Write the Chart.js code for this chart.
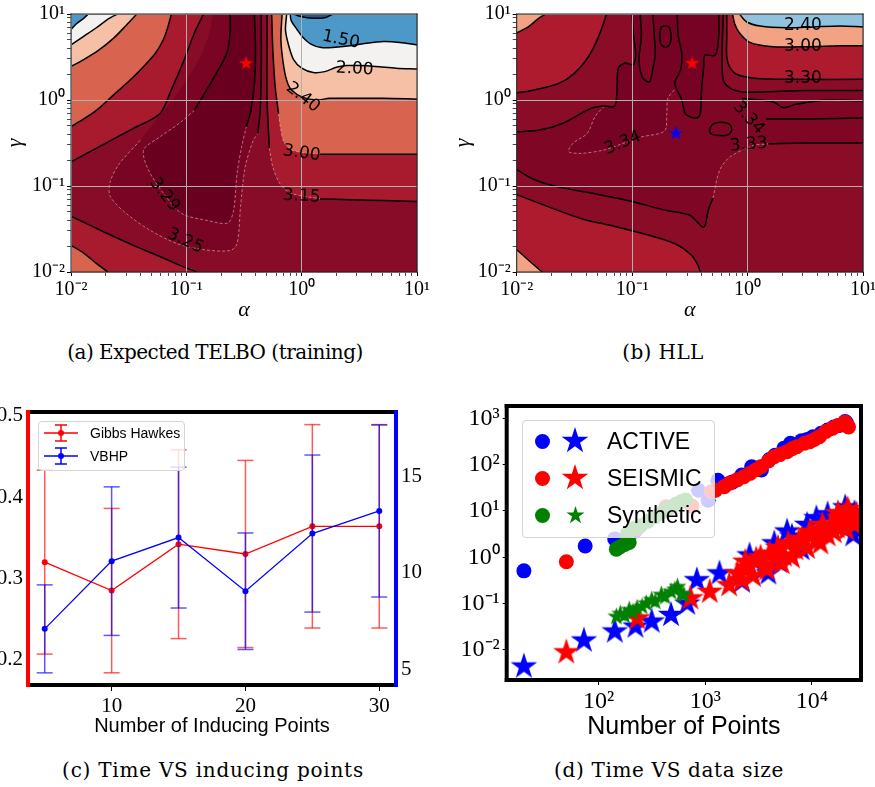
<!DOCTYPE html>
<html>
<head>
<meta charset="utf-8">
<title>TELBO / HLL / timing</title>
<script src="https://cdn.jsdelivr.net/npm/chart.js@4.4.1/dist/chart.umd.min.js"></script>
<style>
  html, body { margin: 0; padding: 0; background: #fff; }
  body { position: relative; width: 875px; height: 787px; overflow: hidden; }
  .panel { position: absolute; overflow: hidden; }
  .panel canvas { position: absolute; left: 0; }
  .cap { position: absolute; font-family: "DejaVu Serif", serif; font-size: 20px; line-height: 24px; text-align: center; white-space: nowrap; color: #000; }
  .legend { position: absolute; box-sizing: border-box; background: rgba(255,255,255,0.8); border: 1px solid #d4d4d4; border-radius: 4px; font-family: "Liberation Sans", Arial, sans-serif; color: #000; }
  .legend > * { position: absolute; }
  .legend span { white-space: nowrap; }
</style>
</head>
<body>
<div class="panel" style="left:0;top:0;width:440px;height:335px"><canvas id="telbo" width="450" height="345" style="top:-10px"></canvas></div>
<div class="panel" style="left:440px;top:0;width:435px;height:335px"><canvas id="hll" width="450" height="345" style="top:-10px"></canvas></div>
<div class="panel" style="left:0;top:395px;width:440px;height:360px"><canvas id="inducing" width="440" height="375" style="top:-10px"></canvas></div>
<div class="panel" style="left:460px;top:395px;width:415px;height:360px"><canvas id="datasize" width="415" height="375" style="top:-15px"></canvas></div>
<div class="legend" id="legInducing" style="left:38px;top:421px;width:147px;height:50px"></div>
<div class="legend" id="legSize" style="left:522px;top:420px;width:193px;height:118px"></div>
<div class="cap" style="left:15px;top:340px;width:400px;letter-spacing:-0.5px">(a) Expected TELBO (training)</div>
<div class="cap" style="left:563px;top:340px;width:200px;letter-spacing:0.4px">(b) HLL</div>
<div class="cap" style="left:13px;top:758px;width:400px;letter-spacing:0.75px">(c) Time VS inducing points</div>
<div class="cap" style="left:469px;top:758px;width:400px;letter-spacing:0.65px">(d) Time VS data size</div>
<script>
Chart.defaults.font.family = '"Liberation Serif", serif';
Chart.defaults.color = '#000';

// contour paths are [log10(alpha), log10(gamma)] pairs

// (a) Expected TELBO
const telboC100 = [[-0.07,1.00],[-0.01,0.97],[0.10,0.95],[0.21,0.96],[0.27,1.00]];
const telboC150a = [[-1.85,1.00],[-1.89,0.95],[-1.95,0.89],[-2.00,0.82]];
const telboC150b = [[-0.10,1.00],[-0.09,0.92],[-0.04,0.82],[0.01,0.73],[0.08,0.65],[0.17,0.61],[0.27,0.61],[0.42,0.63],[0.56,0.66],[0.71,0.68],[0.85,0.67],[1.00,0.64]];
const telboC200a = [[-1.60,1.00],[-1.68,0.94],[-1.78,0.84],[-1.89,0.74],[-2.00,0.64]];
const telboC200b = [[-0.13,1.00],[-0.14,0.81],[-0.11,0.62],[-0.07,0.47],[0.00,0.37],[0.10,0.32],[0.20,0.33],[0.30,0.38],[0.39,0.40],[0.50,0.40],[0.64,0.39],[0.82,0.37],[1.00,0.36]];
const telboC240a = [[-1.43,1.00],[-1.52,0.87],[-1.63,0.72],[-1.76,0.58],[-1.89,0.47],[-2.00,0.39]];
const telboC240b = [[-0.17,1.00],[-0.18,0.70],[-0.16,0.43],[-0.13,0.23],[-0.09,0.12],[0.01,0.03],[0.13,0.00],[0.24,0.02],[0.42,0.02],[0.71,0.02],[1.00,0.01]];
const telboC300a = [[-1.13,1.00],[-1.16,0.85],[-1.20,0.70],[-1.27,0.54],[-1.37,0.39],[-1.49,0.23],[-1.63,0.06],[-1.78,-0.12],[-1.89,-0.22],[-2.00,-0.31]];
const telboC300bTop = [[-0.26,1.00],[-0.25,0.58],[-0.23,0.16],[-0.20,-0.16]];
const telboC300bMid = [[-0.20,-0.16],[-0.18,-0.35],[-0.15,-0.50],[-0.07,-0.59],[0.16,-0.63]];
const telboC300bRight = [[0.16,-0.63],[0.42,-0.63],[0.71,-0.63],[1.00,-0.63]];
const telboC300c = [[-2.00,-1.69],[-1.89,-1.78],[-1.78,-1.90],[-1.68,-2.00]];
const telboC315a = [[-2.00,-0.72],[-1.75,-0.54],[-1.46,-0.33],[-1.23,-0.16],[-1.13,0.12],[-1.03,0.43],[-0.93,0.78],[-0.85,1.00]];
const telboC315bTop = [[-0.30,1.00],[-0.30,0.58],[-0.30,0.00],[-0.28,-0.56]];
const telboC315bMid = [[-0.28,-0.56],[-0.25,-0.78],[-0.19,-0.97],[-0.10,-1.08],[0.16,-1.15]];
const telboC315bRight = [[0.16,-1.15],[0.42,-1.16],[0.71,-1.17],[1.00,-1.18]];
const telboC315c = [[-2.00,-1.35],[-1.86,-1.44],[-1.69,-1.55],[-1.46,-1.69],[-1.23,-1.82],[-1.06,-1.92],[-0.91,-2.00]];
const telboC325 = [[-0.77,1.00],[-0.80,0.78],[-0.88,0.50],[-1.00,0.23],[-1.14,-0.04],[-1.26,-0.23],[-1.40,-0.47],[-1.58,-0.74],[-1.66,-0.95],[-1.66,-1.12],[-1.52,-1.32],[-1.32,-1.51],[-1.08,-1.67],[-0.85,-1.74],[-0.62,-1.75],[-0.56,-1.67],[-0.53,-1.24],[-0.49,-0.78],[-0.42,-0.47],[-0.38,-0.39],[-0.36,-0.12],[-0.35,0.39],[-0.35,1.00]];
const telboC329 = [[-0.62,1.00],[-0.62,0.78],[-0.65,0.54],[-0.74,0.31],[-0.84,0.08],[-0.93,-0.12],[-1.06,-0.27],[-1.23,-0.43],[-1.37,-0.58],[-1.33,-0.81],[-1.19,-1.10],[-1.04,-1.32],[-0.82,-1.40],[-0.64,-1.43],[-0.59,-1.28],[-0.56,-0.85],[-0.52,-0.54],[-0.48,-0.31],[-0.44,-0.12],[-0.41,0.19],[-0.40,0.58],[-0.41,1.00]];
const telboLabels = [['1.50',0.34,0.70,12],['2.00',0.46,0.36,3],['2.40',0.01,0.03,38],['3.00',0.00,-0.62,8],['3.15',0.00,-1.12,3],['3.29',-1.19,-1.10,52],['3.25',-1.01,-1.64,25]];
const telboStars = [{alpha: 0.33, gamma: 2.67, color: '#ff0000'}];

// (b) HLL
const hllC240 = [[-0.07,1.00],[-0.01,0.91],[0.11,0.86],[0.34,0.84],[0.57,0.85],[0.80,0.86],[1.00,0.85]];
const hllC300a = [[-0.13,1.00],[-0.11,0.88],[-0.07,0.78],[0.02,0.67],[0.22,0.62],[0.51,0.62],[0.80,0.63],[1.00,0.63]];
const hllC300b = [[-1.75,1.00],[-1.81,0.95],[-1.90,0.85],[-2.00,0.78]];
const hllC300c = [[-2.00,-1.74],[-1.90,-1.86],[-1.78,-2.00]];
const hllC330a = [[-2.00,0.08],[-1.84,0.12],[-1.64,0.19],[-1.50,0.31],[-1.38,0.50],[-1.29,0.74],[-1.22,1.00]];
const hllC330b = [[-0.18,1.00],[-0.18,0.74],[-0.18,0.50],[-0.15,0.37],[-0.08,0.29],[0.08,0.25],[0.37,0.24],[1.00,0.24]];
const hllC330c = [[-2.00,-1.10],[-1.73,-1.24],[-1.44,-1.38],[-1.15,-1.47],[-0.86,-1.57],[-0.63,-1.67],[-0.49,-1.80],[-0.43,-1.92],[-0.41,-2.00]];
const hllC333a = [[-2.00,-0.37],[-1.80,-0.35],[-1.60,-0.27],[-1.42,-0.14],[-1.34,-0.09],[-1.24,-0.07],[-1.15,-0.07],[-1.13,0.16],[-1.12,0.37],[-1.06,0.43],[-0.99,0.41],[-0.97,0.54],[-0.99,0.78],[-1.00,1.00]];
const hllC333bLeft = [[-2.00,-0.81],[-1.84,-0.93],[-1.64,-1.01],[-1.29,-1.10],[-1.00,-1.18],[-0.72,-1.28],[-0.50,-1.34],[-0.38,-1.48],[-0.34,-1.28],[-0.30,-1.14]];
const hllC333bMid = [[-0.30,-1.14],[-0.24,-0.81],[-0.15,-0.66],[0.05,-0.53],[0.18,-0.51]];
const hllC333bRight = [[0.18,-0.51],[0.51,-0.50],[1.00,-0.50]];
const hllC333c = [[-0.21,1.00],[-0.22,0.58],[-0.21,0.23],[-0.14,0.13],[-0.01,0.09],[0.22,0.10],[0.51,0.11],[1.00,0.11]];
const hllC332 = [[-0.05,0.02],[0.22,-0.02],[0.31,-0.09],[0.42,-0.05],[0.68,0.00],[1.00,-0.01]];
const hllC334a = [[-1.24,-0.07],[-1.32,-0.19],[-1.39,-0.39],[-1.51,-0.50],[-1.55,-0.60],[-1.44,-0.62],[-1.24,-0.58],[-1.09,-0.51],[-0.92,-0.43],[-0.72,-0.36],[-0.70,-0.16],[-0.69,0.02],[-0.62,0.14]];
const hllC334b = [[-0.61,1.00],[-0.60,0.74],[-0.57,0.54],[-0.58,0.35],[-0.63,0.21],[-0.62,0.14],[-0.57,0.00],[-0.54,-0.16],[-0.49,-0.20],[-0.44,-0.21],[-0.41,-0.16],[-0.40,0.08],[-0.38,0.39],[-0.37,0.52],[-0.28,0.52],[-0.25,0.74],[-0.25,1.00]];
const hllC334c = [[-0.93,1.00],[-0.92,0.74],[-0.94,0.47],[-0.91,0.26],[-0.85,0.21],[-0.82,0.37],[-0.80,0.52],[-0.81,0.78],[-0.82,1.00]];
const hllC334d = [[-0.75,0.85],[-0.69,0.86],[-0.665,0.78],[-0.67,0.66],[-0.71,0.61],[-0.75,0.65],[-0.76,0.76],[-0.75,0.85]];
const hllC334e = [[-0.33,-0.34],[-0.30,-0.28],[-0.23,-0.26],[-0.15,-0.29],[-0.14,-0.36],[-0.18,-0.41],[-0.27,-0.41],[-0.32,-0.39],[-0.33,-0.34]];
const hllC334f = [[0.16,-0.22],[0.51,-0.22],[1.00,-0.21]];
const hllLabels = [['2.40',0.48,0.87,0],['3.00',0.48,0.62,0],['3.30',0.48,0.25,0],['3.34',-1.08,-0.50,-22],['3.34',0.01,-0.21,48],['3.33',0.01,-0.52,-5]];
const hllStars = [{alpha: 0.331, gamma: 2.67, color: '#ff0000'}, {alpha: 0.239, gamma: 0.409, color: '#0000ff'}];

// (c) time vs inducing points
const inducingPoints = [5, 10, 15, 20, 25, 30];
const gibbsTime = [0.320, 0.285, 0.342, 0.330, 0.364, 0.364];
const gibbsErr = [0.113, 0.101, 0.116, 0.115, 0.125, 0.125];
const vbhpTime = [7.08, 10.59, 11.81, 9.03, 12.02, 13.19];
const vbhpErr = [2.28, 3.85, 3.65, 3.02, 4.07, 4.46];
const inducingTicks = [10, 20, 30];
const gibbsTicks = [0.2, 0.3, 0.4, 0.5];
const vbhpTicks = [5, 10, 15];

// (d) time vs data size
const activeCircleN = [20, 75, 142, 220, 865, 1064, 1313, 1500, 1795, 2200, 2723, 3000, 3357, 4000, 4500, 5456, 6280, 7000, 8000, 9000, 10200, 12160, 14000, 16000, 18000, 20460, 21000];
const activeCircleT = [0.51, 1.76, 2.5, 3.7, 28, 17, 46, 38, 42, 60, 90, 85, 77, 130, 160, 225, 290, 260, 330, 350, 400, 475, 560, 650, 700, 850, 800];
const seismicCircleN = [50, 231, 430, 751, 1140, 1250, 1507, 1700, 1990, 2300, 2630, 3000, 3360, 3900, 4436, 5000, 5850, 6500, 7210, 8500, 9530, 10500, 11730, 13500, 15500, 17500, 19770, 20500, 21500, 22000];
const seismicCircleT = [0.80, 4.2, 12.4, 12.8, 26, 28, 33.5, 40, 47, 55, 65, 78, 91, 120, 149, 165, 191, 220, 245, 290, 313, 350, 402, 520, 608, 700, 780, 820, 700, 650];
const synthCircleN = [147, 160, 176, 194, 187, 215, 247, 290, 340, 400, 460, 530, 600, 655];
const synthCircleT = [1.5, 1.7, 1.9, 2.1, 3.3, 4.2, 4.8, 6.0, 7.5, 9.5, 11.5, 14, 16, 17.3];
const activeStarN = [20, 73, 142, 222, 315, 478, 678, 834, 1360, 2208, 2600, 3600, 3900, 4436, 4920, 5850, 6500, 8000, 9000, 11000, 12500, 14000, 15000, 17000, 18000, 20460, 22000, 24380, 25000, 26000];
const activeStarT = [0.0044, 0.016, 0.025, 0.032, 0.041, 0.057, 0.10, 0.32, 0.45, 0.30, 1.1, 0.58, 0.45, 2.0, 0.8, 3.6, 2.8, 1.5, 5.0, 7.0, 3.8, 8.5, 5.0, 6.0, 8.0, 12, 5.0, 3.0, 9.0, 4.5];
const seismicStarN = [50, 231, 727, 1101, 1675, 2000, 2210, 2371, 2500, 2800, 3000, 3300, 3600, 3800, 4000, 4500, 4800, 5200, 5460, 6000, 6500, 7000, 7500, 8000, 9000, 9500, 10000, 11000, 12000, 12500, 13000, 14000, 15000, 16000, 17000, 17500, 18000, 19000, 20000, 21000, 21500, 22000, 23000, 24000, 25000, 26000];
const seismicStarT = [0.0089, 0.048, 0.13, 0.18, 0.25, 0.45, 0.32, 0.8, 0.6, 0.4, 0.9, 1.0, 0.68, 0.55, 1.2, 0.9, 1.6, 0.75, 1.1, 2.0, 1.0, 1.5, 2.2, 2.5, 1.6, 3.5, 3.0, 2.6, 2.0, 5.0, 4.0, 3.0, 5.0, 3.5, 4.5, 9.0, 7.0, 5.9, 8.0, 4.0, 11, 9.7, 7.5, 6.0, 5.0, 8.5];
const synthStarN = [147, 160, 175, 194, 210, 230, 256, 280, 315, 340, 388, 420, 478, 520, 550, 600, 630];
const synthStarT = [0.052, 0.06, 0.055, 0.073, 0.065, 0.08, 0.086, 0.10, 0.12, 0.11, 0.155, 0.14, 0.18, 0.20, 0.23, 0.16, 0.155];
const sizeXTicks = [100, 1000, 10000];
const sizeYTicks = [0.01, 0.1, 1, 10, 100, 1000];
const contourDecades = [0.01, 0.1, 1, 10];

// ---------- helpers ----------
const SUP = {'-': '\u207b', '0': '\u2070', '1': '\u00b9', '2': '\u00b2', '3': '\u00b3', '4': '\u2074'};
const pow10Label = v => '10' + String(Math.round(Math.log10(v))).split('').map(c => SUP[c]).join('');
const E = ([a, g]) => ({x: 10 ** a, y: 10 ** g});
const rev = p => [...p].reverse();
const poly = (...parts) => parts.flatMap(p => [p[0], ...p, p[p.length - 1]]);
const pairs = (xs, ys) => xs.map((x, i) => ({x, y: ys[i]}));
const TL = [[-2, 1]], TR = [[1, 1]], BL = [[-2, -2]], BR = [[1, -2]];
const contourTicks = contourDecades.flatMap((d, i) => i === contourDecades.length - 1 ? [d] : [1, 2, 3, 4, 5, 6, 7, 8, 9].map(k => d * k));
const isDecade = v => contourDecades.includes(v);

function starImg(color, r) {
  const size = Math.ceil(2 * r) + 2;
  const c = document.createElement('canvas');
  c.width = size; c.height = size;
  const g = c.getContext('2d');
  g.fillStyle = color;
  g.beginPath();
  for (let k = 0; k < 10; k++) {
    const rr = k % 2 ? r * 0.382 : r;
    const ang = -Math.PI / 2 + k * Math.PI / 5;
    g.lineTo(size / 2 + rr * Math.cos(ang), size / 2 + rr * Math.sin(ang));
  }
  g.closePath();
  g.fill();
  return c;
}

const framePlugin = sides => ({
  id: 'frame',
  afterDraw(chart) {
    const {ctx, chartArea: a} = chart;
    const seg = {top: [a.left, a.top, a.right, a.top], bottom: [a.left, a.bottom, a.right, a.bottom],
                 left: [a.left, a.top, a.left, a.bottom], right: [a.right, a.top, a.right, a.bottom]};
    ctx.save();
    sides.forEach(([side, color, width]) => {
      const s = seg[side];
      ctx.strokeStyle = color; ctx.lineWidth = width; ctx.lineCap = 'square';
      ctx.beginPath(); ctx.moveTo(s[0], s[1]); ctx.lineTo(s[2], s[3]); ctx.stroke();
    });
    ctx.restore();
  }
});

const labelPlugin = items => ({
  id: 'contourLabels',
  afterDraw(chart) {
    const {ctx, scales} = chart;
    ctx.save();
    ctx.font = '17px "DejaVu Sans", sans-serif';
    ctx.fillStyle = '#000';
    ctx.textAlign = 'center';
    ctx.textBaseline = 'middle';
    items.forEach(([text, ea, eg, rot]) => {
      ctx.save();
      ctx.translate(scales.x.getPixelForValue(10 ** ea), scales.y.getPixelForValue(10 ** eg));
      ctx.rotate(rot * Math.PI / 180);
      ctx.fillText(text, 0, 0);
      ctx.restore();
    });
    ctx.restore();
  }
});

function contourAxis(title, titlePad, fit) {
  return {
    type: 'logarithmic', min: 0.01, max: 10,
    afterBuildTicks: s => { s.ticks = contourTicks.map(value => ({value})); },
    afterFit: fit,
    border: {display: false},
    grid: {z: 1, color: c => isDecade(c.tick.value) ? '#b0b0b0' : 'rgba(0,0,0,0)', lineWidth: 1,
           tickColor: '#000', tickLength: 4, tickWidth: c => isDecade(c.tick.value) ? 1 : 0.7},
    ticks: {autoSkip: false, maxRotation: 0, padding: 2, font: {size: 20}, callback: v => isDecade(v) ? pow10Label(v) : ''},
    title: {display: true, text: title, font: {size: 22, style: 'italic'}, padding: titlePad}
  };
}

function contourChart(id, spec) {
  const datasets = [];
  spec.fills.forEach(([color, pts]) => datasets.push({data: pts.map(E), fill: 'shape', backgroundColor: color, borderWidth: 0, pointRadius: 0, tension: 0.3}));
  spec.gray.forEach(p => datasets.push({data: p.map(E), fill: false, borderColor: 'rgba(225,185,185,0.75)', borderWidth: 0.8, borderDash: [3, 2], pointRadius: 0, tension: 0.3}));
  spec.black.forEach(p => datasets.push({data: p.map(E), fill: false, borderColor: '#000', borderWidth: 1.5, pointRadius: 0, tension: 0.3}));
  spec.stars.forEach(s => datasets.push({data: [{x: s.alpha, y: s.gamma}], showLine: false, fill: false, pointStyle: starImg(s.color, 7.5), pointRadius: 7.5}));
  datasets.forEach((d, i) => { d.order = datasets.length - i; });
  return new Chart(document.getElementById(id), {
    type: 'line',
    data: {datasets},
    options: {
      responsive: false, animation: false, events: [],
      layout: {padding: {top: 24, right: spec.padRight, left: 0, bottom: 0}},
      plugins: {legend: {display: false}, tooltip: {enabled: false}},
      scales: {
        x: contourAxis('\u03b1', {top: 0, bottom: 11.8}, s => { s.height = 63; }),
        y: contourAxis('\u03b3', {top: spec.gammaPad, bottom: 0}, s => { s.width = spec.yWidth; })
      }
    },
    plugins: [framePlugin([['top', '#222', 1], ['bottom', '#222', 1], ['left', '#222', 1], ['right', '#222', 1]]), labelPlugin(spec.labels)]
  });
}

// ---------- (a) ----------
const telboC300b = [...telboC300bTop, ...telboC300bMid.slice(1), ...telboC300bRight.slice(1)];
const telboC315b = [...telboC315bTop, ...telboC315bMid.slice(1), ...telboC315bRight.slice(1)];
contourChart('telbo', {
  yWidth: 71, padRight: 33, gammaPad: 1.8,
  fills: [
    ['#4b98c9', poly(TL, BL, BR, TR)],
    ['#1f5a96', poly(telboC100)],
    ['#f4f2f0', poly(telboC150a, BL, BR, rev(telboC150b))],
    ['#f6c0a6', poly(telboC200a, BL, BR, rev(telboC200b))],
    ['#d8634f', poly(telboC240a, BL, BR, rev(telboC240b))],
    ['#a81a2e', poly(telboC300a, telboC300c, BR, rev(telboC300b))],
    ['#880b27', poly(rev(telboC315a), telboC315c, BR, rev(telboC315b))],
    ['#790424', poly(telboC325)],
    ['#6a0020', poly(telboC329)]
  ],
  gray: [telboC300bMid, telboC315bMid, telboC325.slice(6, 20), telboC329.slice(5, 18)],
  black: [telboC100, telboC150a, telboC150b, telboC200a, telboC200b, telboC240a, telboC240b, telboC300a,
          telboC300bTop, telboC300bRight, telboC300c, telboC315a, telboC315bTop, telboC315bRight, telboC315c,
          telboC325.slice(19), telboC329.slice(0, 6), telboC329.slice(17)],
  stars: telboStars,
  labels: telboLabels
});

// ---------- (b) ----------
const hllC333b = [...hllC333bLeft, ...hllC333bMid.slice(1), ...hllC333bRight.slice(1)];
contourChart('hll', {
  yWidth: 76.7, padRight: 27, gammaPad: 9.8,
  fills: [
    ['#8fc3df', poly(TL, BL, BR, TR)],
    ['#f2a383', poly(TL, BL, BR, rev(hllC240))],
    ['#ae1b2f', poly(hllC300b, hllC300c, BR, rev(hllC300a))],
    ['#8a0c27', poly(rev(hllC330a), hllC330c, BR, rev(hllC330b))],
    ['#7f0625', poly(rev(hllC333a), hllC333b, rev(hllC333c))],
    ['#760323', poly(rev(hllC333a).slice(0, 9), hllC334a, hllC334b.slice(5))],
    ['#7f0625', poly(hllC334c)]
  ],
  gray: [hllC334a, hllC333bMid],
  black: [hllC240, hllC300a, hllC300b, hllC300c, hllC330a, hllC330b, hllC330c, hllC333a, hllC333bLeft, hllC333bRight,
          hllC333c, hllC332, hllC334b, hllC334c, hllC334d, hllC334e, hllC334f],
  stars: hllStars,
  labels: hllLabels
});

// ---------- (c) ----------
const errBars = (xs, ys, es) => xs.flatMap((x, i) => [{x, y: ys[i] - es[i]}, {x, y: ys[i] + es[i]}, {x, y: null}]);
const serifTicks = size => ({color: '#000', font: {family: '"Liberation Serif", serif', size}});
new Chart(document.getElementById('inducing'), {
  type: 'line',
  data: {datasets: [
    {data: pairs(inducingPoints, vbhpTime), yAxisID: 'yR', borderColor: '#0000ff', backgroundColor: '#0000ff', borderWidth: 1.3, pointRadius: 3, pointBorderWidth: 0, order: 1},
    {data: errBars(inducingPoints, vbhpTime, vbhpErr), yAxisID: 'yR', borderColor: 'rgba(0,0,255,0.65)', borderWidth: 1.5, pointStyle: 'line', pointRadius: 8, pointBorderColor: 'rgba(0,0,255,0.65)', pointBorderWidth: 1.5, order: 2},
    {data: pairs(inducingPoints, gibbsTime), yAxisID: 'yL', borderColor: '#ff0000', backgroundColor: '#ff0000', borderWidth: 1.3, pointRadius: 3, pointBorderWidth: 0, order: 3},
    {data: errBars(inducingPoints, gibbsTime, gibbsErr), yAxisID: 'yL', borderColor: 'rgba(255,0,0,0.65)', borderWidth: 1.5, pointStyle: 'line', pointRadius: 8, pointBorderColor: 'rgba(255,0,0,0.65)', pointBorderWidth: 1.5, order: 4}
  ]},
  options: {
    responsive: false, animation: false, events: [],
    layout: {padding: {top: 27, right: 0, left: 0, bottom: 0}},
    plugins: {legend: {display: false}, tooltip: {enabled: false}},
    scales: {
      x: {type: 'linear', min: 3.75, max: 31.25,
          afterBuildTicks: s => { s.ticks = inducingTicks.map(value => ({value})); },
          afterFit: s => { s.height = 75; },
          border: {display: false},
          grid: {drawOnChartArea: false, tickLength: 6, tickColor: '#000'},
          ticks: {...serifTicks(21), padding: 3, maxRotation: 0},
          title: {display: true, text: 'Number of Inducing Points', color: '#000', font: {family: '"Liberation Sans", sans-serif', size: 20}, padding: {top: 0, bottom: 22}}},
      yL: {type: 'linear', position: 'left', min: 0.169, max: 0.5045,
           afterBuildTicks: s => { s.ticks = gibbsTicks.map(value => ({value})); },
           afterFit: s => { s.width = 28; },
           border: {display: false},
           grid: {drawOnChartArea: false, drawTicks: false},
           ticks: {...serifTicks(21), padding: 5, callback: v => v.toFixed(1)}},
      yR: {type: 'linear', position: 'right', min: 4.17, max: 18.32,
           afterBuildTicks: s => { s.ticks = vbhpTicks.map(value => ({value})); },
           afterFit: s => { s.width = 44; },
           border: {display: false},
           grid: {drawOnChartArea: false, drawTicks: false},
           ticks: {...serifTicks(21), padding: 5}}
    }
  },
  plugins: [framePlugin([['top', '#000', 4], ['bottom', '#000', 4], ['left', '#ff0000', 4], ['right', '#0000ff', 4]])]
});

// ---------- (d) ----------
const BLUE = '#0000ff', RED = '#ff0000', GREEN = '#008000';
const sizeSeries = [
  [synthStarN, synthStarT, starImg(GREEN, 9.5), 9.5],
  [synthCircleN, synthCircleT, 'circle', 7.5, GREEN],
  [seismicStarN, seismicStarT, starImg(RED, 14), 14],
  [seismicCircleN, seismicCircleT, 'circle', 7.5, RED],
  [activeStarN, activeStarT, starImg(BLUE, 14), 14],
  [activeCircleN, activeCircleT, 'circle', 7.5, BLUE]
];
new Chart(document.getElementById('datasize'), {
  type: 'scatter',
  data: {datasets: sizeSeries.map(([n, t, style, r, color], i) => ({
    data: pairs(n, t), pointStyle: style, pointRadius: r, backgroundColor: color || 'transparent',
    borderWidth: 0, pointBorderWidth: 0, order: i + 1
  }))},
  options: {
    responsive: false, animation: false, events: [],
    layout: {padding: {top: 26, right: 2, left: 0, bottom: 0}},
    plugins: {legend: {display: false}, tooltip: {enabled: false}},
    scales: {
      x: {type: 'logarithmic', min: 13.8, max: 28800,
          afterBuildTicks: s => { s.ticks = sizeXTicks.map(value => ({value})); },
          afterFit: s => { s.height = 75; },
          border: {display: false},
          grid: {drawOnChartArea: false, tickLength: 5, tickColor: '#000'},
          ticks: {...serifTicks(24), padding: 2, maxRotation: 0, autoSkip: false, callback: v => pow10Label(v)},
          title: {display: true, text: 'Number of Points', color: '#000', font: {family: '"Liberation Sans", sans-serif', size: 25}, padding: {top: 0, bottom: 13}}},
      y: {type: 'logarithmic', min: 0.00225, max: 1845,
          afterBuildTicks: s => { s.ticks = sizeYTicks.map(value => ({value})); },
          afterFit: s => { s.width = 46.7; },
          border: {display: false},
          grid: {drawOnChartArea: false, tickLength: 4, tickColor: '#000'},
          ticks: {...serifTicks(24), padding: 3, autoSkip: false, callback: v => pow10Label(v)}}
    }
  },
  plugins: [framePlugin([['top', '#000', 4], ['bottom', '#000', 4], ['left', '#000', 4], ['right', '#000', 4]])]
});

// ---------- legends ----------
function errGlyph(color) {
  const c = document.createElement('canvas');
  c.width = 36; c.height = 20;
  const g = c.getContext('2d');
  g.strokeStyle = color; g.fillStyle = color; g.lineWidth = 1.5;
  g.beginPath();
  g.moveTo(1, 10); g.lineTo(35, 10);
  g.moveTo(18, 2); g.lineTo(18, 18);
  g.moveTo(12, 2); g.lineTo(24, 2);
  g.moveTo(12, 18); g.lineTo(24, 18);
  g.stroke();
  g.beginPath(); g.arc(18, 10, 3, 0, 2 * Math.PI); g.fill();
  return c;
}
const inducingLegend = [['Gibbs Hawkes', RED], ['VBHP', BLUE]];
const legI = document.getElementById('legInducing');
inducingLegend.forEach(([label, color], i) => {
  const cy = 11 + i * 22.7;
  const glyph = errGlyph(color);
  glyph.style.left = '4px'; glyph.style.top = (cy - 10) + 'px';
  legI.appendChild(glyph);
  const span = document.createElement('span');
  span.textContent = label;
  span.style.cssText = `left:51px;top:${cy - 9}px;font-size:14px;line-height:18px;`;
  legI.appendChild(span);
});

const sizeLegend = [['ACTIVE', BLUE, 14], ['SEISMIC', RED, 14], ['Synthetic', GREEN, 9.5]];
const legS = document.getElementById('legSize');
sizeLegend.forEach(([label, color, r], i) => {
  const cy = 20 + i * 37.2;
  const dot = document.createElement('div');
  dot.style.cssText = `left:12px;top:${cy - 7.5}px;width:15px;height:15px;border-radius:50%;background:${color};`;
  legS.appendChild(dot);
  const star = starImg(color, r);
  star.style.left = (52 - star.width / 2) + 'px';
  star.style.top = (cy - star.height / 2) + 'px';
  legS.appendChild(star);
  const span = document.createElement('span');
  span.textContent = label;
  span.style.cssText = `left:84px;top:${cy - 14}px;font-size:23px;line-height:28px;`;
  legS.appendChild(span);
});
</script>
</body>
</html>
